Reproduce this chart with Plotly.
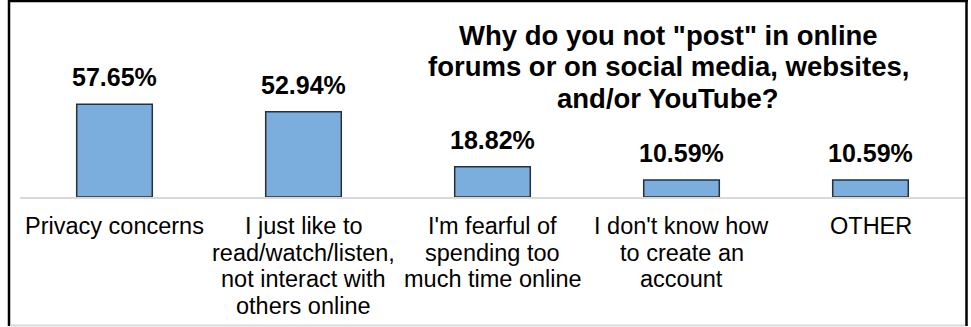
import plotly.graph_objects as go

# Survey results
categories = [
    "Privacy concerns",
    "I just like to<br>read/watch/listen,<br>not interact with<br>others online",
    "I'm fearful of<br>spending too<br>much time online",
    "I don't know how<br>to create an<br>account",
    "OTHER",
]
values = [57.65, 52.94, 18.82, 10.59, 10.59]
value_labels = ["57.65%", "52.94%", "18.82%", "10.59%", "10.59%"]
title_lines = [
    'Why do you not "post" in online',
    "forums or on social media, websites,",
    "and/or YouTube?",
]

W, H = 971, 327
M_L, M_R, M_T, M_B = 20, 6, 36, 130
plot_h = H - M_T - M_B
plot_w = W - M_L - M_R

FONT = "Liberation Sans, Arial, sans-serif"
BAR_FILL = "#7BAEDD"
BAR_EDGE = "#2B2F36"
GRID_GRAY = "#D9D9D9"

keys = list(range(len(categories)))


def px_x(px):
    return (px - M_L) / plot_w


def px_y(py):
    return (M_T + plot_h - py) / plot_h


fig = go.Figure()
fig.add_trace(go.Bar(
    x=keys,
    y=values,
    width=0.4,
    marker=dict(color=BAR_FILL, line=dict(color=BAR_EDGE, width=1.5)),
    hoverinfo="skip",
))

annotations = []
# value labels above bars
for k, v, lab in zip(keys, values, value_labels):
    annotations.append(dict(
        x=k, y=v, xref="x", yref="y", text=f"<b>{lab}</b>",
        showarrow=False, yanchor="middle", xanchor="center", yshift=27,
        font=dict(family=FONT, size=25, color="#000000"),
    ))

# category labels, one annotation per line for tight line spacing
LINE_STEP = 26.7
for k, cat in zip(keys, categories):
    for i, line in enumerate(cat.split("<br>")):
        annotations.append(dict(
            x=k, y=0, xref="x", yref="y", text=line,
            showarrow=False, yanchor="middle", xanchor="center",
            yshift=-(29 + i * LINE_STEP),
            font=dict(family=FONT, size=23.5, color="#000000"),
        ))

# chart title, one line per annotation
TITLE_STEP = 31.5
for i, line in enumerate(title_lines):
    annotations.append(dict(
        x=px_x(668), y=px_y(35 + i * TITLE_STEP),
        xref="paper", yref="paper", text=f"<b>{line}</b>",
        showarrow=False, xanchor="center", yanchor="middle",
        font=dict(family=FONT, size=27.5, color="#000000"),
    ))

shapes = [
    # outer frame
    dict(type="line", xref="paper", yref="paper", x0=px_x(9), x1=px_x(9),
         y0=px_y(0), y1=px_y(326), line=dict(color="#000000", width=2.5)),
    dict(type="line", xref="paper", yref="paper", x0=px_x(8), x1=px_x(968),
         y0=px_y(1), y1=px_y(1), line=dict(color="#000000", width=2.5)),
    dict(type="line", xref="paper", yref="paper", x0=px_x(966.5), x1=px_x(966.5),
         y0=px_y(0), y1=px_y(326), line=dict(color="#000000", width=2.5)),
    dict(type="line", xref="paper", yref="paper", x0=px_x(10), x1=px_x(965),
         y0=px_y(325.5), y1=px_y(325.5), line=dict(color=GRID_GRAY, width=2)),
]

fig.update_layout(
    width=W, height=H,
    margin=dict(l=M_L, r=M_R, t=M_T, b=M_B, pad=0),
    paper_bgcolor="#FFFFFF", plot_bgcolor="#FFFFFF",
    showlegend=False,
    annotations=annotations,
    shapes=shapes,
    xaxis=dict(range=[-0.5, len(categories) - 0.5], showticklabels=False,
               showgrid=False, zeroline=False, showline=True,
               linecolor=GRID_GRAY, linewidth=2, ticks="", fixedrange=True),
    yaxis=dict(range=[0, 100], visible=False, showgrid=False, zeroline=False,
               fixedrange=True),
)

fig.write_html("out.html", config={"displayModeBar": False})
